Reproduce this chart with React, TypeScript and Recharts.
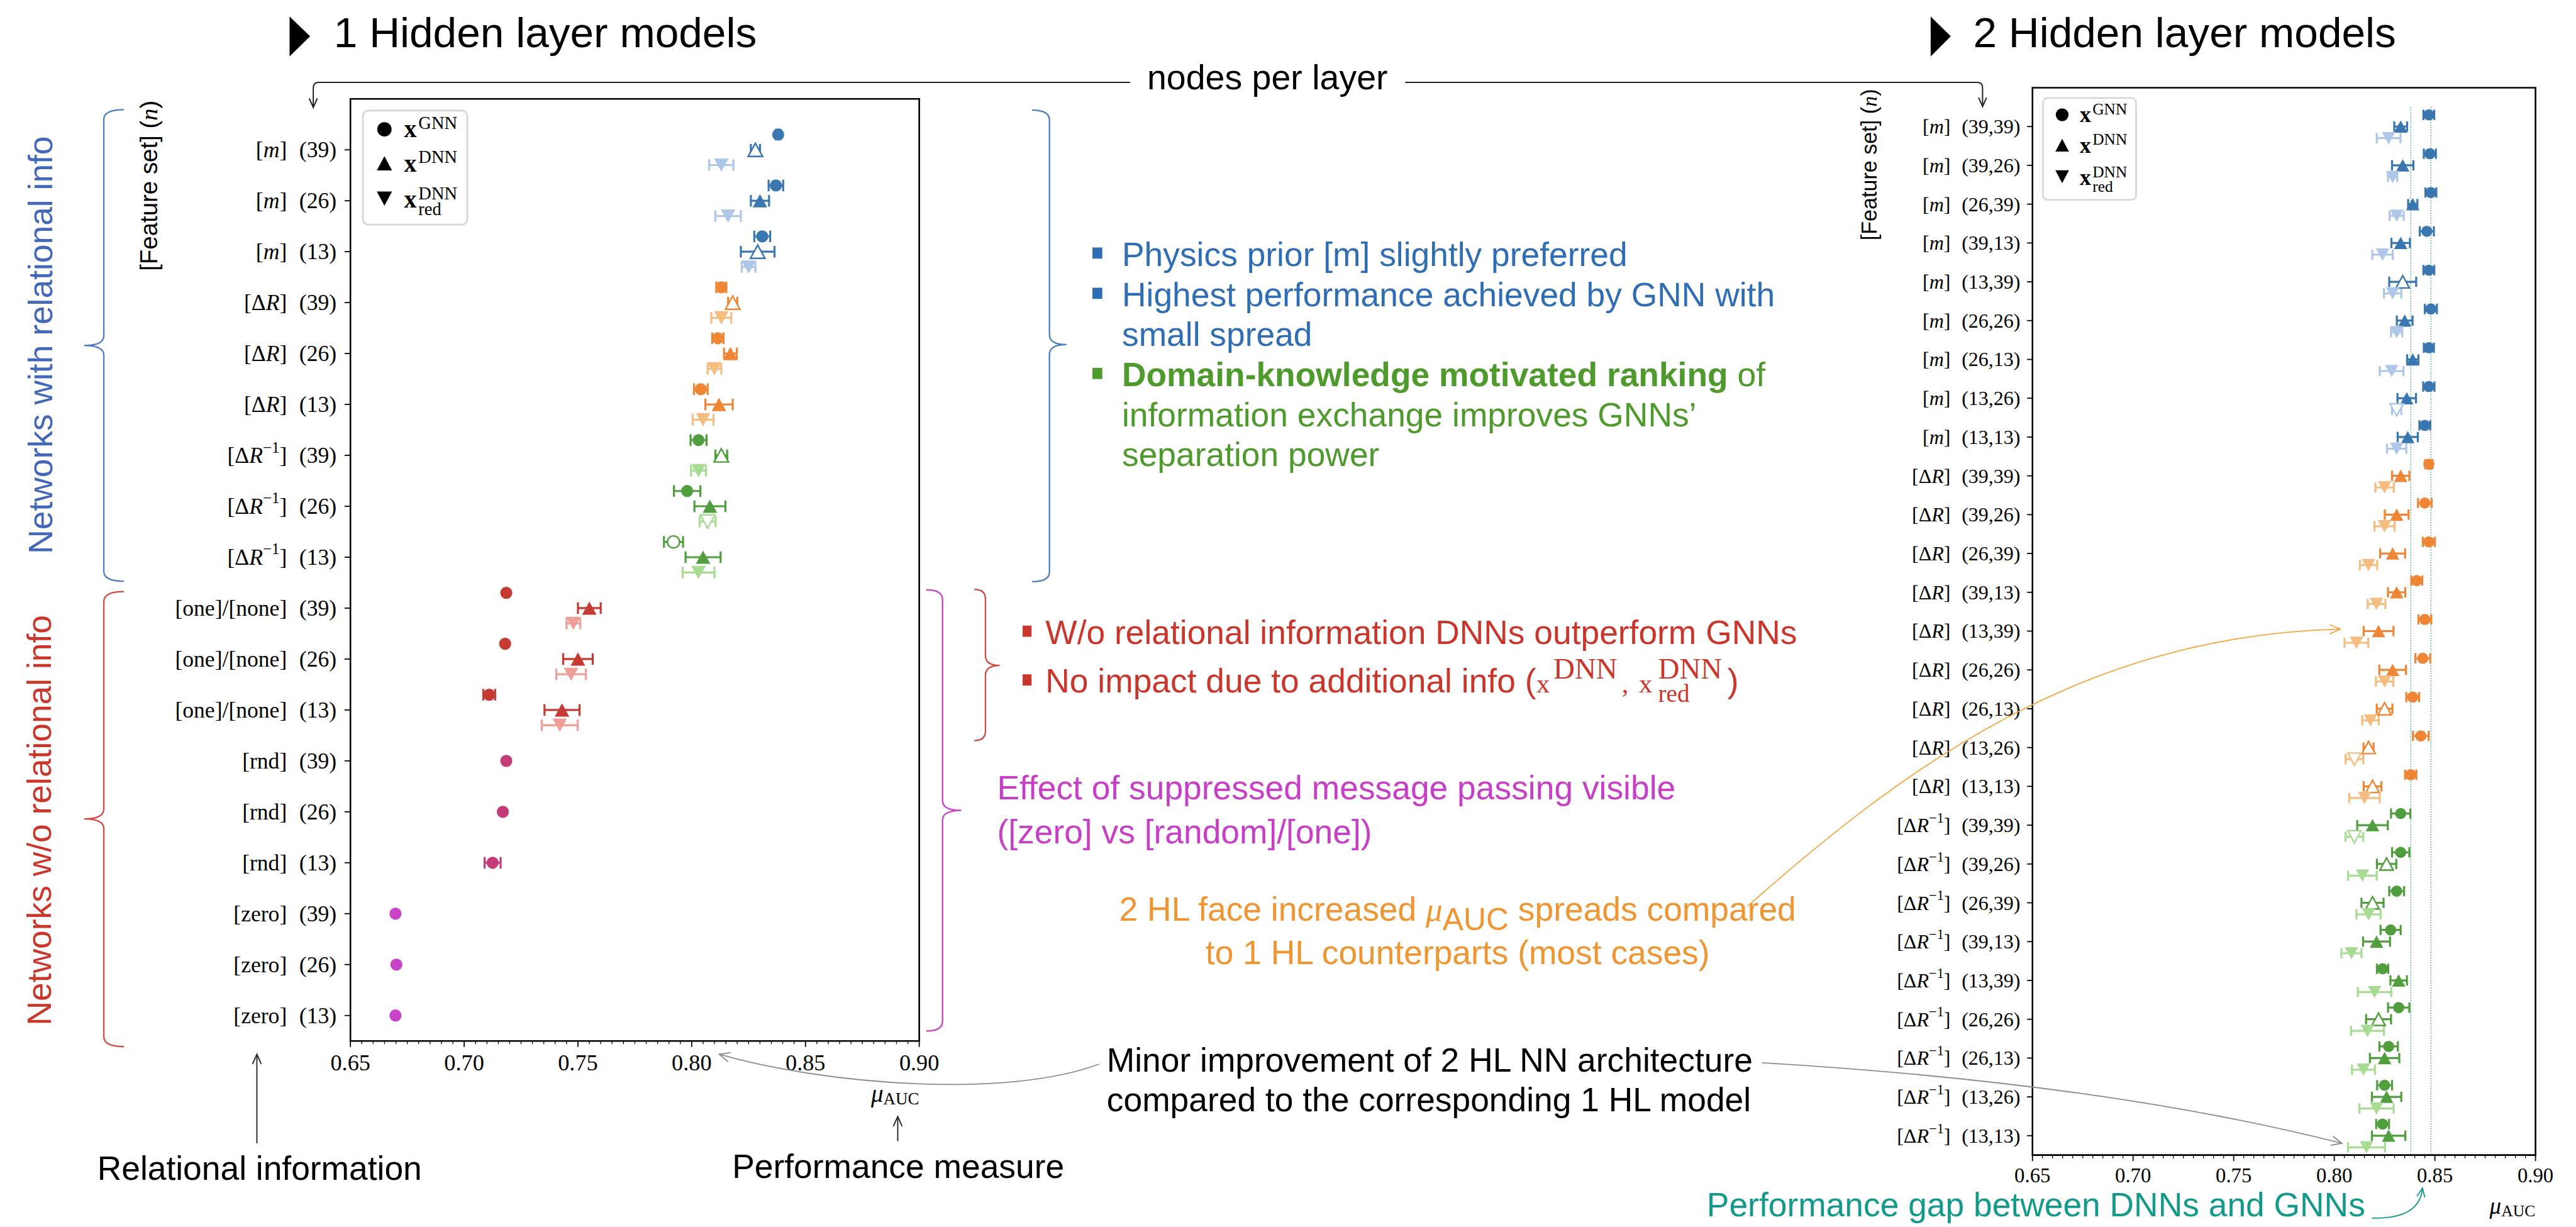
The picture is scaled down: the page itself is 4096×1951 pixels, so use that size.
import React from 'react';
import { ScatterChart, Scatter, XAxis, YAxis, ErrorBar, ReferenceArea, ReferenceLine } from 'recharts';

const W = 4096;
const H = 1951;
const S = W / 5756; // reference -> window

const SANS = '"Liberation Sans", Arial, sans-serif';
const SERIF = '"Liberation Serif", "Times New Roman", serif';

// ---------- 1 hidden layer models ----------
const oneHlFeatures = ['m', 'm', 'm', 'dR', 'dR', 'dR', 'dRinv', 'dRinv', 'dRinv', 'one', 'one', 'one', 'rnd', 'rnd', 'rnd', 'zero', 'zero', 'zero'];
const oneHlNodes = ['39', '26', '13', '39', '26', '13', '39', '26', '13', '39', '26', '13', '39', '26', '13', '39', '26', '13'];
const oneHlGnn = [0.838, 0.837, 0.831, 0.813, 0.8115, 0.804, 0.803, 0.798, 0.792, 0.7185, 0.718, 0.711, 0.7185, 0.717, 0.7125, 0.6698, 0.6702, 0.6698];
const oneHlGnnErr = [0.001, 0.0032, 0.0035, 0.0022, 0.0025, 0.003, 0.0035, 0.0058, 0.0042, 0, 0, 0.0026, 0, 0, 0.0035, 0, 0, 0];
const oneHlDnn = [0.828, 0.83, 0.829, 0.818, 0.817, 0.812, 0.813, 0.808, 0.805, 0.755, 0.75, 0.743, null, null, null, null, null, null];
const oneHlDnnErr = [0.002, 0.004, 0.0074, 0.002, 0.0028, 0.006, 0.0026, 0.0068, 0.0077, 0.005, 0.0065, 0.0077, null, null, null, null, null, null];
const oneHlRed = [0.813, 0.816, 0.825, 0.813, 0.81, 0.805, 0.803, 0.807, 0.803, 0.748, 0.747, 0.742, null, null, null, null, null, null];
const oneHlRedErr = [0.0053, 0.0056, 0.003, 0.0044, 0.003, 0.0046, 0.0033, 0.0035, 0.007, 0.003, 0.0065, 0.0079, null, null, null, null, null, null];
const oneHlHollow = ['dnn-0', 'dnn-2', 'dnn-3', 'dnn-6', 'gnn-8', 'red-7'];

// ---------- 2 hidden layer models ----------
const twoHlFeatures = ['m', 'm', 'm', 'm', 'm', 'm', 'm', 'm', 'm', 'dR', 'dR', 'dR', 'dR', 'dR', 'dR', 'dR', 'dR', 'dR', 'dRinv', 'dRinv', 'dRinv', 'dRinv', 'dRinv', 'dRinv', 'dRinv', 'dRinv', 'dRinv'];
const twoHlNodes = ['39,39', '39,26', '26,39', '39,13', '13,39', '26,26', '26,13', '13,26', '13,13', '39,39', '39,26', '26,39', '39,13', '13,39', '26,26', '26,13', '13,26', '13,13', '39,39', '39,26', '26,39', '39,13', '13,39', '26,26', '26,13', '13,26', '13,13'];
const twoHlGnn = [0.847, 0.8475, 0.848, 0.846, 0.847, 0.848, 0.847, 0.847, 0.845, 0.847, 0.845, 0.847, 0.841, 0.845, 0.844, 0.839, 0.843, 0.838, 0.833, 0.833, 0.831, 0.828, 0.824, 0.832, 0.827, 0.825, 0.824];
const twoHlGnnErr = [0.0027, 0.003, 0.0027, 0.0035, 0.0027, 0.003, 0.0025, 0.0028, 0.0027, 0.0018, 0.0034, 0.003, 0.0027, 0.0032, 0.0037, 0.0032, 0.0039, 0.0028, 0.0048, 0.0043, 0.0037, 0.005, 0.0028, 0.0053, 0.0046, 0.0037, 0.0032];
const twoHlDnn = [0.833, 0.834, 0.839, 0.833, 0.834, 0.835, 0.839, 0.836, 0.8365, 0.833, 0.831, 0.829, 0.831, 0.822, 0.829, 0.825, 0.817, 0.819, 0.819, 0.826, 0.819, 0.821, 0.832, 0.822, 0.825, 0.826, 0.827];
const twoHlDnnErr = [0.0032, 0.0053, 0.0023, 0.0046, 0.0067, 0.0039, 0.0028, 0.0046, 0.005, 0.0043, 0.0059, 0.0062, 0.0043, 0.0074, 0.0066, 0.0039, 0.0025, 0.0044, 0.0076, 0.0048, 0.0055, 0.0067, 0.0041, 0.0062, 0.0073, 0.0073, 0.0083];
const twoHlRed = [0.827, 0.829, 0.831, 0.824, 0.829, 0.831, 0.8285, 0.831, 0.831, 0.825, 0.825, 0.817, 0.821, 0.811, 0.825, 0.818, 0.81, 0.815, 0.81, 0.814, 0.817, 0.8085, 0.82, 0.8165, 0.8145, 0.821, 0.816];
const twoHlRedErr = [0.0059, 0.0023, 0.0035, 0.0051, 0.0043, 0.0028, 0.0059, 0.0023, 0.0048, 0.0046, 0.005, 0.0043, 0.0044, 0.0059, 0.0043, 0.0041, 0.0044, 0.0076, 0.0044, 0.0071, 0.006, 0.005, 0.0083, 0.0082, 0.0057, 0.0085, 0.0092];
const twoHlHollow = ['dnn-4', 'red-7', 'dnn-15', 'dnn-16', 'red-16', 'dnn-17', 'red-18', 'dnn-19', 'dnn-20', 'dnn-23'];
const gapLines = [0.838, 0.848];

const xMajor = [0.65, 0.7, 0.75, 0.8, 0.85, 0.9];
const xTicks: number[] = [];
for (let i = 0; i <= 50; i++) xTicks.push(Math.round((0.65 + i * 0.005) * 1000) / 1000);

const groupColors: Record<string, string[]> = {
  m: ['#3a76af', '#aec7e8'],
  dR: ['#ef8636', '#f5bd80'],
  dRinv: ['#519e3e', '#a8dc93'],
  one: ['#c53a32', '#f09e98'],
  rnd: ['#c33c78', '#c33c78'],
  zero: ['#c843c8', '#c843c8'],
};

function buildSeries(features: string[], gnn: any[], gnnErr: any[], dnn: any[], dnnErr: any[], red: any[], redErr: any[], hollow: string[]) {
  const groups = Array.from(new Set(features));
  const kinds: [string, any[], any[]][] = [['gnn', gnn, gnnErr], ['dnn', dnn, dnnErr], ['red', red, redErr]];
  const out: any[] = [];
  groups.forEach((g) => {
    kinds.forEach(([kind, vals, errs]) => {
      const data: any[] = [];
      features.forEach((f, i) => {
        if (f !== g || vals[i] == null) return;
        const single = dnn[i] == null;
        const off = kind === 'gnn' ? (single ? 0 : -0.3) : kind === 'dnn' ? 0 : 0.3;
        data.push({ x: vals[i], y: i + off, err: errs[i], hollow: hollow.includes(`${kind}-${i}`) });
      });
      if (data.length) {
        out.push({ key: `${g}-${kind}`, kind, color: kind === 'red' ? groupColors[g][1] : groupColors[g][0], data });
      }
    });
  });
  return out;
}

const markerShape = (kind: string, color: string, r: number) => (props: any) => {
  const { cx, cy, payload } = props;
  if (cx == null || cy == null) return <g />;
  const st = payload && payload.hollow
    ? { fill: '#fff', stroke: color, strokeWidth: 2.4 }
    : { fill: color, stroke: 'none' };
  if (kind === 'gnn') return <circle cx={cx} cy={cy} r={r} {...st} />;
  const hw = r * 1.2;
  const hh = r * 1.1;
  const pts = kind === 'dnn'
    ? `${cx},${cy - hh} ${cx - hw},${cy + hh} ${cx + hw},${cy + hh}`
    : `${cx},${cy + hh} ${cx - hw},${cy - hh} ${cx + hw},${cy - hh}`;
  return <polygon points={pts} {...st} />;
};

function featureLabel(f: string, fs: number) {
  if (f === 'm') return <>[<tspan fontStyle="italic">m</tspan>]</>;
  if (f === 'dR') return <>[Δ<tspan fontStyle="italic">R</tspan>]</>;
  if (f === 'dRinv') return (
    <>[Δ<tspan fontStyle="italic">R</tspan><tspan fontSize={fs * 0.7} dy={-fs * 0.38}>−1</tspan><tspan dy={fs * 0.38}>]</tspan></>
  );
  if (f === 'one') return '[one]/[none]';
  return `[${f}]`;
}

const YTick = (props: any) => {
  const { x, y, payload, feats, nodes, fs } = props;
  const i = payload.value;
  if (feats[i] == null) return <g />;
  return (
    <text x={x} y={y} textAnchor="end" dominantBaseline="central" fontFamily={SERIF} fontSize={fs} fill="#000">
      {featureLabel(feats[i], fs)}
      <tspan dx={fs * 0.55}>({nodes[i]})</tspan>
    </text>
  );
};

const XTick = (props: any) => {
  const { x, y, payload, fs, labelOff } = props;
  const v = payload.value;
  const major = xMajor.some((m) => Math.abs(m - v) < 1e-6);
  return (
    <g>
      <line x1={x} x2={x} y1={y} y2={y + (major ? 9.5 : 5)} stroke="#000" strokeWidth={major ? 1.8 : 1.3} />
      {major && (
        <text x={x} y={y + labelOff} textAnchor="middle" dominantBaseline="central" fontFamily={SERIF} fontSize={fs} fill="#000">
          {v.toFixed(2)}
        </text>
      )}
    </g>
  );
};

function Panel(p: any) {
  const { series, feats, nodes, box, yFs, xFs, xLabelOff, tickSize, tickMargin, r, cap, gaps } = p;
  const n = feats.length;
  const L = box[0] * S, R = box[1] * S, T = box[2] * S, B = box[3] * S;
  const yTicks = feats.map((_: any, i: number) => i);
  return (
    <div style={{ position: 'absolute', left: 0, top: 0, width: W, height: H }}>
      <ScatterChart width={W} height={H} margin={{ top: T, right: W - R, bottom: 0, left: 0 }}>
        <XAxis type="number" dataKey="x" domain={[0.65, 0.9]} allowDataOverflow ticks={xTicks} interval={0}
          height={H - B} tickSize={0} tickMargin={0} axisLine={false} tickLine={false}
          tick={<XTick fs={xFs} labelOff={xLabelOff} />} />
        <YAxis type="number" dataKey="y" domain={[-1, n - 0.5]} reversed allowDataOverflow ticks={yTicks} interval={0}
          width={L} tickSize={tickSize} tickMargin={tickMargin} axisLine={false}
          tickLine={{ stroke: '#000', strokeWidth: 1.8 }}
          tick={<YTick feats={feats} nodes={nodes} fs={yFs} />} />
        <ReferenceArea x1={0.65} x2={0.9} y1={-1} y2={n - 0.5} fill="none" fillOpacity={0} stroke="#000" strokeWidth={2.6} ifOverflow="visible" />
        {(gaps || []).map((g: number) => (
          <ReferenceLine key={g} segment={[{ x: g, y: -0.5 }, { x: g, y: n - 0.5 }]} stroke="#1a9a86" strokeWidth={1.3} strokeDasharray="1.5 2.5" />
        ))}
        {series.map((s: any) => (
          <Scatter key={s.key} data={s.data} fill={s.color} isAnimationActive={false} shape={markerShape(s.kind, s.color, r)}>
            <ErrorBar dataKey="err" direction="x" width={cap} stroke={s.color} strokeWidth={3.2} isAnimationActive={false} />
          </Scatter>
        ))}
      </ScatterChart>
    </div>
  );
}

// ---------- annotation helpers (reference coordinates) ----------
const head = (x: number, y: number, dx: number, dy: number, len = 26, spread = 0.42) => {
  const a = Math.atan2(dy, dx);
  const p1 = [x - len * Math.cos(a - spread), y - len * Math.sin(a - spread)];
  const p2 = [x - len * Math.cos(a + spread), y - len * Math.sin(a + spread)];
  return `M ${p1[0]} ${p1[1]} L ${x} ${y} L ${p2[0]} ${p2[1]}`;
};

const brace = (xe: number, xs: number, xt: number, yt: number, yb: number, ym: number, c: string) => {
  const r = 22;
  const d = `M ${xe} ${yt} Q ${xs} ${yt} ${xs} ${yt + r} L ${xs} ${ym - r} Q ${xs} ${ym} ${xt} ${ym} Q ${xs} ${ym} ${xs} ${ym + r} L ${xs} ${yb - r} Q ${xs} ${yb} ${xe} ${yb}`;
  return <path d={d} fill="none" stroke={c} strokeWidth={3.2} />;
};

const LegendBox = ({ bx, by, k }: any) => (
  <g transform={`translate(${bx},${by}) scale(${k})`} fontFamily={SERIF}>
    <rect x={0} y={0} width={233} height={255} rx={12} fill="#fff" stroke="#d6d6d6" strokeWidth={4} />
    <circle cx={48} cy={42} r={16} fill="#000" />
    <polygon points="48,102 31,134 65,134" fill="#000" />
    <polygon points="48,213 31,181 65,181" fill="#000" />
    <text x={92} y={60} fontSize={56} fontWeight="bold">x</text>
    <text x={124} y={41} fontSize={40}>GNN</text>
    <text x={92} y={137} fontSize={56} fontWeight="bold">x</text>
    <text x={124} y={117} fontSize={40}>DNN</text>
    <text x={92} y={217} fontSize={56} fontWeight="bold">x</text>
    <text x={124} y={198} fontSize={40}>DNN</text>
    <text x={124} y={234} fontSize={40}>red</text>
  </g>
);

const BLUE = '#2f6eb5';
const GREEN = '#4f9a2d';
const RED = '#c9372c';
const MAG = '#c63fc6';
const ORANGE = '#ef9632';
const TEAL = '#15998a';

function Overlay() {
  return (
    <svg width={W} height={H} viewBox="0 0 5756 2742" preserveAspectRatio="none"
      style={{ position: 'absolute', left: 0, top: 0, pointerEvents: 'none' }}>
      {/* titles */}
      <polygon points="647,37 693,81 647,126" fill="#000" />
      <text x={746} y={105} fontFamily={SANS} fontSize={95} fill="#000">1 Hidden layer models</text>
      <polygon points="4314,37 4359,81 4314,126" fill="#000" />
      <text x={4409} y={105} fontFamily={SANS} fontSize={95} fill="#000">2 Hidden layer models</text>

      {/* nodes per layer */}
      <text x={2832} y={200} textAnchor="middle" fontFamily={SANS} fontSize={78} fill="#000">nodes per layer</text>
      <g fill="none" stroke="#222" strokeWidth={2.8}>
        <path d="M 2525 184 L 712 184 Q 700 184 700 196 L 700 240" />
        <path d={head(700, 240, 0, 1, 22)} />
        <path d="M 3140 184 L 4418 184 Q 4430 184 4430 196 L 4430 238" />
        <path d={head(4430, 238, 0, 1, 22)} />
      </g>

      {/* axis titles */}
      <text transform="translate(333,415) rotate(-90)" textAnchor="middle" dominantBaseline="central" fontFamily={SANS} fontSize={54} fill="#000">
        [Feature set] (<tspan fontFamily={SERIF} fontStyle="italic">n</tspan>)
      </text>
      <text transform="translate(4176,368) rotate(-90)" textAnchor="middle" dominantBaseline="central" fontFamily={SANS} fontSize={48} fill="#000">
        [Feature set] (<tspan fontFamily={SERIF} fontStyle="italic">n</tspan>)
      </text>
      <text x={2054} y={2462} textAnchor="end" fontFamily={SERIF} fill="#000">
        <tspan fontStyle="italic" fontSize={55}>μ</tspan><tspan fontSize={38} dy={6}>AUC</tspan>
      </text>
      <text x={5665} y={2712} textAnchor="end" fontFamily={SERIF} fill="#000">
        <tspan fontStyle="italic" fontSize={52}>μ</tspan><tspan fontSize={36} dy={6}>AUC</tspan>
      </text>

      {/* group labels and braces */}
      <text transform="translate(91,771) rotate(-90)" textAnchor="middle" dominantBaseline="central" fontFamily={SANS} fontSize={75} fill="#4468b9">Networks with relational info</text>
      <text transform="translate(88,1833) rotate(-90)" textAnchor="middle" dominantBaseline="central" fontFamily={SANS} fontSize={75} fill={RED}>Networks w/o relational info</text>
      {brace(277, 232, 188, 245, 1299, 772, '#4a7cc0')}
      {brace(277, 232, 188, 1322, 2339, 1830, '#d04a42')}
      {brace(2306, 2345, 2383, 246, 1300, 770, '#4a7cc0')}
      {brace(2177, 2202, 2234, 1317, 1655, 1487, '#d04a42')}
      {brace(2070, 2106, 2148, 1318, 2304, 1811, MAG)}

      {/* legends */}
      <LegendBox bx={811} by={247} k={1} />
      <LegendBox bx={4565} by={219} k={0.893} />

      {/* blue / green notes */}
      <g fontFamily={SANS} fontSize={75}>
        <rect x={2441} y={553} width={22} height={25} fill={BLUE} />
        <text x={2507} y={594} fill={BLUE}>Physics prior [m] slightly preferred</text>
        <rect x={2441} y={643} width={22} height={25} fill={BLUE} />
        <text x={2507} y={684} fill={BLUE}>Highest performance achieved by GNN with</text>
        <text x={2507} y={773} fill={BLUE}>small spread</text>
        <rect x={2441} y={822} width={22} height={25} fill={GREEN} />
        <text x={2507} y={863} fill={GREEN}><tspan fontWeight="bold">Domain-knowledge motivated ranking</tspan> of</text>
        <text x={2507} y={953} fill={GREEN}>information exchange improves GNNs’</text>
        <text x={2507} y={1042} fill={GREEN}>separation power</text>

        {/* red notes */}
        <rect x={2285} y={1398} width={20} height={25} fill={RED} />
        <text x={2336} y={1439} fill={RED}>W/o relational information DNNs outperform GNNs</text>
        <rect x={2285} y={1507} width={20} height={25} fill={RED} />
        <text x={2336} y={1548} fill={RED}>No impact due to additional info (</text>
        <text x={3433} y={1548} fill={RED} fontFamily={SERIF} fontSize={60}>x</text>
        <text x={3471} y={1517} fill={RED} fontFamily={SERIF} fontSize={66}>DNN</text>
        <text x={3624} y={1548} fill={RED} fontFamily={SERIF} fontSize={60}>,</text>
        <text x={3662} y={1548} fill={RED} fontFamily={SERIF} fontSize={60}>x</text>
        <text x={3705} y={1517} fill={RED} fontFamily={SERIF} fontSize={66}>DNN</text>
        <text x={3705} y={1569} fill={RED} fontFamily={SERIF} fontSize={55}>red</text>
        <text x={3860} y={1548} fill={RED}>)</text>

        {/* magenta */}
        <text x={2228} y={1787} fill={MAG}>Effect of suppressed message passing visible</text>
        <text x={2228} y={1885} fill={MAG}>([zero] vs [random]/[one])</text>

        {/* orange */}
        <text x={3257} y={2057} textAnchor="middle" fill={ORANGE}>
          2 HL face increased <tspan fontFamily={SERIF} fontStyle="italic">μ</tspan><tspan fontSize={70} dy={22}>AUC</tspan><tspan dy={-22}> spreads compared</tspan>
        </text>
        <text x={3257} y={2155} textAnchor="middle" fill={ORANGE}>to 1 HL counterparts (most cases)</text>

        {/* black */}
        <text x={2473} y={2395} fill="#000">Minor improvement of 2 HL NN architecture</text>
        <text x={2473} y={2483} fill="#000">compared to the corresponding 1 HL model</text>
        <text x={580} y={2636} textAnchor="middle" fill="#000">Relational information</text>
        <text x={2007} y={2632} textAnchor="middle" fill="#000">Performance measure</text>

        {/* teal */}
        <text x={5285} y={2718} textAnchor="end" fill={TEAL}>Performance gap between DNNs and GNNs</text>
      </g>

      {/* arrows */}
      <g fill="none" strokeWidth={2.6}>
        <path d="M 574 2555 L 574 2358" stroke="#222" />
        <path d={head(574, 2356, 0, -1, 24)} stroke="#222" />
        <path d="M 2006 2550 L 2006 2497" stroke="#222" />
        <path d={head(2006, 2495, 0, -1, 24)} stroke="#222" />
        <path d="M 2456 2378 C 2250 2455, 1850 2425, 1607 2356" stroke="#8c8c8c" />
        <path d={head(1607, 2356, -243, -69)} stroke="#8c8c8c" />
        <path d="M 3937 2375 Q 4700 2420 5233 2555" stroke="#8c8c8c" />
        <path d={head(5233, 2555, 533, 135)} stroke="#8c8c8c" />
        <path d="M 3905 2025 C 4250 1720, 4650 1420, 5229 1406" stroke="#f3a641" />
        <path d={head(5229, 1406, 579, -14)} stroke="#f3a641" />
        <path d="M 5300 2722 Q 5405 2725 5413 2657" stroke={TEAL} />
        <path d={head(5413, 2655, 13, -73, 22)} stroke={TEAL} />
      </g>
    </svg>
  );
}

export default function App() {
  const oneSeries = buildSeries(oneHlFeatures, oneHlGnn, oneHlGnnErr, oneHlDnn, oneHlDnnErr, oneHlRed, oneHlRedErr, oneHlHollow);
  const twoSeries = buildSeries(twoHlFeatures, twoHlGnn, twoHlGnnErr, twoHlDnn, twoHlDnnErr, twoHlRed, twoHlRedErr, twoHlHollow);
  return (
    <div style={{ position: 'absolute', left: 0, top: 0, width: W, height: H, overflow: 'hidden', background: '#fff' }}>
      <Panel series={oneSeries} feats={oneHlFeatures} nodes={oneHlNodes} box={[783, 2054, 221, 2326]}
        yFs={50 * S} xFs={51 * S} xLabelOff={49 * S} tickSize={13 * S} tickMargin={18 * S} r={13.5 * S} cap={13 * S} />
      <Panel series={twoSeries} feats={twoHlFeatures} nodes={twoHlNodes} box={[4541.5, 5665.5, 196, 2581]}
        yFs={45 * S} xFs={46 * S} xLabelOff={46 * S} tickSize={12 * S} tickMargin={15 * S} r={12.5 * S} cap={11.5 * S} gaps={gapLines} />
      <Overlay />
    </div>
  );
}
